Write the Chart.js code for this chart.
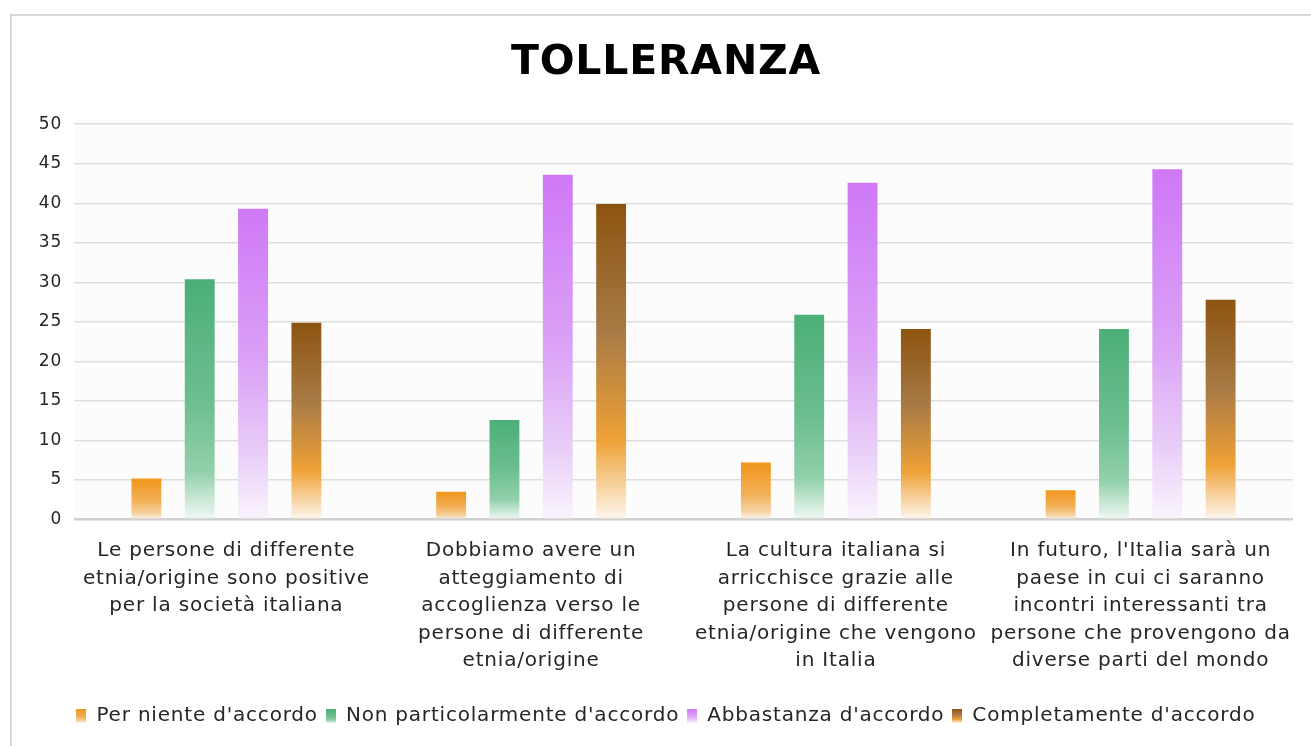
<!DOCTYPE html>
<html>
<head>
<meta charset="utf-8">
<script src="https://cdn.jsdelivr.net/npm/chart.js"></script>
<style>
  html, body { margin: 0; padding: 0; background: #fff; overflow: hidden; }
  #frame {
    position: absolute; left: 10px; top: 14px;
    width: 1312px; height: 740px;
    border-left: 2px solid #d9d9d9; border-top: 2px solid #d9d9d9;
    box-sizing: border-box;
  }
  #wrap { position: absolute; left: 10px; top: 14px; width: 1312px; height: 732px; }
</style>
</head>
<body>
<div id="frame"></div>
<div id="wrap"><canvas id="tolleranzaChart"></canvas></div>

<script>
// dati
const categorie = [
    ['Le persone di differente', 'etnia/origine sono positive', 'per la società italiana'],
    ['Dobbiamo avere un', 'atteggiamento di', 'accoglienza verso le', 'persone di differente', 'etnia/origine'],
    ['La cultura italiana si', 'arricchisce grazie alle', 'persone di differente', 'etnia/origine che vengono', 'in Italia'],
    ["In futuro, l'Italia sarà un", 'paese in cui ci saranno', 'incontri interessanti tra', 'persone che provengono da', 'diverse parti del mondo']
];
const perNiente = [5.2, 3.5, 7.2, 3.7];
const nonParticolarmente = [30.4, 12.6, 25.9, 24.1];
const abbastanza = [39.3, 43.6, 42.6, 44.3];
const completamente = [24.9, 39.9, 24.1, 27.8];
const yTicks = [0, 5, 10, 15, 20, 25, 30, 35, 40, 45, 50];

const FONT = '"DejaVu Sans", Verdana, sans-serif';
const SPACING = '0.8px';

// gradienti (dall'alto verso il basso)
const stopOrange = [[0, '#f0961c'], [0.55, '#f2b057'], [0.85, '#f6d2a2'], [1, '#fdf7ef']];
const stopGreen = [[0, '#4caf77'], [0.5, '#6cbe8f'], [0.8, '#92d0ab'], [1, '#f2f9f5']];
const stopPurple = [[0, '#cf78f7'], [0.5, '#dba2f6'], [0.8, '#e9cff8'], [1, '#faf4fd']];
const stopBrown = [[0, '#8c5410'], [0.4, '#a77a45'], [0.75, '#efa136'], [1, '#fdf7ef']];

function barGradient(stops) {
    return function (c) {
        const chart = c.chart;
        if (!chart.chartArea || c.raw === undefined) return stops[0][1];
        const y = chart.scales.y;
        const top = y.getPixelForValue(c.raw);
        const bottom = y.getPixelForValue(0);
        const g = chart.ctx.createLinearGradient(0, top, 0, bottom);
        stops.forEach(s => g.addColorStop(s[0], s[1]));
        return g;
    };
}

function legendBox(stops) {
    const cv = document.createElement('canvas');
    cv.width = 10; cv.height = 14;
    const x = cv.getContext('2d');
    const g = x.createLinearGradient(0, 0, 0, 14);
    stops.forEach(s => g.addColorStop(s[0], s[1]));
    x.fillStyle = g;
    x.fillRect(0, 0, 10, 14);
    return cv;
}

// spaziatura lettere + titolo/legenda centrati su tutta la larghezza
const ritocchi = {
    id: 'ritocchi',
    beforeLayout(chart) { chart.ctx.letterSpacing = SPACING; },
    afterLayout(chart) {
        if (chart.titleBlock) chart.titleBlock.right = chart.width;
        if (chart.legend) chart.legend.right = chart.width;
    },
    beforeDraw(chart) {
        chart.ctx.letterSpacing = SPACING;
        const a = chart.chartArea;
        chart.ctx.save();
        chart.ctx.fillStyle = '#fcfcfc';
        chart.ctx.fillRect(a.left, a.top, a.right - a.left, a.bottom - a.top);
        chart.ctx.restore();
    }
};

const ctx = document.getElementById('tolleranzaChart').getContext('2d');
new Chart(ctx, {
    type: 'bar',
    data: {
        labels: categorie,
        datasets: [
            { label: "Per niente d'accordo", data: perNiente, backgroundColor: barGradient(stopOrange), pointStyle: legendBox(stopOrange) },
            { label: "Non particolarmente d'accordo", data: nonParticolarmente, backgroundColor: barGradient(stopGreen), pointStyle: legendBox(stopGreen) },
            { label: "Abbastanza d'accordo", data: abbastanza, backgroundColor: barGradient(stopPurple), pointStyle: legendBox(stopPurple) },
            { label: "Completamente d'accordo", data: completamente, backgroundColor: barGradient(stopBrown), pointStyle: legendBox(stopBrown) }
        ]
    },
    plugins: [ritocchi],
    options: {
        responsive: true,
        maintainAspectRatio: false,
        animation: false,
        datasets: {
            bar: { categoryPercentage: 0.70, barPercentage: 0.56 }
        },
        layout: { padding: { left: 0, right: 29, top: 0, bottom: 10 } },
        scales: {
            x: {
                afterFit: s => { s.height += 13; },
                grid: { display: false },
                border: { display: false },
                ticks: {
                    color: '#262626',
                    font: { family: FONT, size: 20, lineHeight: 1.375 },
                    padding: 10,
                    maxRotation: 0,
                    autoSkip: false
                }
            },
            y: {
                min: 0,
                max: 50,
                afterBuildTicks: s => { s.ticks = yTicks.map(v => ({ value: v })); },
                afterFit: s => { s.width = 64; },
                grid: {
                    color: c => c.tick && c.tick.value === 0 ? '#d0d0d0' : '#dedede',
                    lineWidth: c => c.tick && c.tick.value === 0 ? 2.5 : 1.5,
                    drawTicks: false
                },
                border: { display: false },
                ticks: {
                    color: '#262626',
                    font: { family: FONT, size: 17 },
                    padding: 12
                }
            }
        },
        plugins: {
            title: {
                display: true,
                text: 'TOLLERANZA',
                color: '#000',
                font: { family: FONT, size: 41, weight: 'bold', lineHeight: 1.2 },
                padding: { top: 25, bottom: 36 }
            },
            legend: {
                display: true,
                position: 'bottom',
                labels: {
                    usePointStyle: true,
                    color: '#262626',
                    font: { family: FONT, size: 20 },
                    padding: 8,
                    boxWidth: 10,
                    boxHeight: 14
                }
            },
            tooltip: { enabled: false }
        }
    }
});
</script>
</body>
</html>
